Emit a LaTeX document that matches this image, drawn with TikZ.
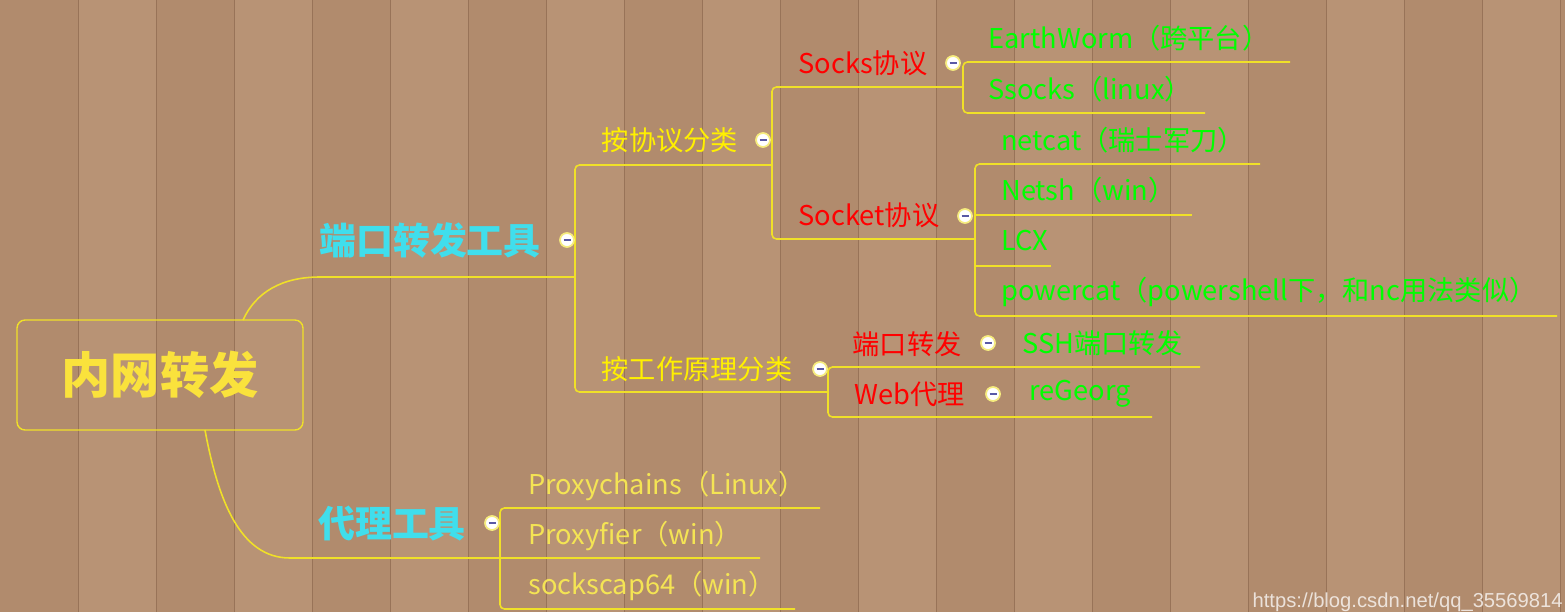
\documentclass[tikz,border=0pt]{standalone}
\usepackage{fontspec}
\setmainfont{Noto Sans CJK SC}
\newfontfamily\wmfont{Liberation Sans}
\usetikzlibrary{positioning}
\definecolor{wood}{RGB}{184,147,117}
\definecolor{woodalt}{RGB}{177,139,109}
\definecolor{seam}{RGB}{152,115,88}
\definecolor{branchyellow}{RGB}{240,224,40}
\definecolor{rootyellow}{RGB}{250,226,60}
\definecolor{topiccyan}{RGB}{64,222,236}
\definecolor{subyellow}{RGB}{255,240,0}
\definecolor{protored}{RGB}{255,0,0}
\definecolor{toolgreen}{RGB}{0,255,0}
\definecolor{proxyyellow}{RGB}{244,228,84}
\tikzset{
    x=0.02cm, y=-0.02cm,
    branch/.style={
        draw=branchyellow,
        line width=0.9pt
    },
    rootbox/.style={
        rectangle,
        rounded corners=0.16cm,
        draw=branchyellow,
        line width=0.8pt,
        minimum width=5.72cm,
        minimum height=2.2cm,
        font=\fontsize{28}{32}\selectfont\bfseries,
        text=rootyellow
    },
    topic/.style={
        font=\fontsize{21}{25}\selectfont\bfseries,
        text=topiccyan,
        inner sep=0pt
    },
    sub/.style={
        font=\fontsize{15.5}{18}\selectfont,
        text=subyellow,
        inner sep=0pt
    },
    proto/.style={sub, text=protored},
    tool/.style={sub, text=toolgreen, anchor=west},
    proxytool/.style={sub, text=proxyyellow, anchor=west},
    fold/.style={
        circle,
        fill=white,
        draw=branchyellow!60!white,
        line width=1pt,
        minimum size=0.28cm,
        inner sep=0pt,
        path picture={\draw[gray!70!blue, line width=0.6pt]
            ([xshift=-0.07cm]path picture bounding box.center) --
            ([xshift=0.07cm]path picture bounding box.center);}
    },
    watermark/.style={
        font=\wmfont\fontsize{11.5}{13}\selectfont,
        text=white,
        opacity=0.75,
        anchor=base east,
        inner sep=0pt
    }
}

\begin{document}
\begin{tikzpicture}
    \useasboundingbox (0,0) rectangle (1565,612);
    \fill[wood] (0,0) rectangle (1565,612);
    \foreach \x in {0,156,...,1560} \fill[woodalt] (\x,0) rectangle ++(78,612);
    \foreach \x in {78,156,...,1560} \draw[seam, line width=0.4pt] (\x,0) -- (\x,612);

    \coordinate (r1) at (243,320);
    \coordinate (r2) at (205,430);
    \coordinate (k1) at (575,277);
    \coordinate (k2) at (772,165);
    \coordinate (k3) at (963,87);
    \coordinate (k4) at (975,239);
    \coordinate (k5) at (828,392);
    \coordinate (k6) at (500,558);
    \coordinate (ew-e) at (1290,62);
    \coordinate (ssocks-e) at (1205,113);
    \coordinate (netcat-e) at (1260,164);
    \coordinate (netsh-e) at (1192,215);
    \coordinate (lcx-e) at (1051,266);
    \coordinate (powercat-e) at (1557,316);
    \coordinate (ssh-e) at (1200,367);
    \coordinate (regeorg-e) at (1152,417);
    \coordinate (pchains-e) at (820,508);
    \coordinate (pfier-e) at (760,558);
    \coordinate (pscap-e) at (795,609);

    \draw[branch] (r1) .. controls (256,292) and (282,277) .. (320,277) -- (k1);
    \draw[branch] (r2) .. controls (218,500) and (240,558) .. (290,558) -- (pfier-e);
    \draw[branch, rounded corners=2.5pt] (k2) -| (k1) |- (k5);
    \draw[branch, rounded corners=2.5pt] (k3) -| (k2) |- (k4);
    \draw[branch, rounded corners=2.5pt] (ew-e) -| (k3) |- (ssocks-e);
    \draw[branch, rounded corners=2.5pt] (netcat-e) -| (k4) |- (powercat-e);
    \draw[branch] (k4 |- netsh-e) -- (netsh-e);
    \draw[branch] (k4 |- lcx-e) -- (lcx-e);
    \draw[branch, rounded corners=2.5pt] (ssh-e) -| (k5) |- (regeorg-e);
    \draw[branch, rounded corners=2.5pt] (pchains-e) -| (k6) |- (pscap-e);

    \node[rootbox] (root) at (160,375) {内网转发};
    \node[topic] (port) at (430,240) {端口转发工具};
    \node[fold] (f-port) at (567,240) {};
    \node[sub] (byproto) at (670,140) {按协议分类};
    \node[fold] (f-byproto) at (763,140) {};
    \node[proto] (socks) at (863,63) {Socks协议};
    \node[fold] (f-socks) at (953,63) {};
    \node[proto] (socket) at (869,215) {Socket协议};
    \node[fold] (f-socket) at (965,216) {};
    \node[tool] (ew) at (988,38) {EarthWorm（跨平台）};
    \node[tool] (ssocks) at (988,89) {Ssocks（linux）};
    \node[tool] (netcat) at (1001,140) {netcat（瑞士军刀）};
    \node[tool] (netsh) at (1001,190) {Netsh（win）};
    \node[tool] (lcx) at (1001,241) {LCX};
    \node[tool] (powercat) at (1001,292) {powercat（powershell下，和nc用法类似）};
    \node[sub] (bywork) at (697,369) {按工作原理分类};
    \node[fold] (f-bywork) at (820,369) {};
    \node[proto] (fwd) at (907,344) {端口转发};
    \node[fold] (f-fwd) at (988,343) {};
    \node[tool] (ssh) at (1022,343) {SSH端口转发};
    \node[proto] (web) at (910,394) {Web代理};
    \node[fold] (f-web) at (993,394) {};
    \node[tool] (regeorg) at (1029,394) {reGeorg};
    \node[topic] (proxy) at (392,524) {代理工具};
    \node[fold] (f-proxy) at (492,523) {};
    \node[proxytool] (pchains) at (528,486) {Proxychains（Linux）};
    \node[proxytool] (pfier) at (528,536) {Proxyfier（win）};
    \node[proxytool] (pscap) at (528,586) {sockscap64（win）};

    \node[watermark] (wm) at (1563,607) {https://blog.csdn.net/qq\_35569814};
\end{tikzpicture}
\end{document}
